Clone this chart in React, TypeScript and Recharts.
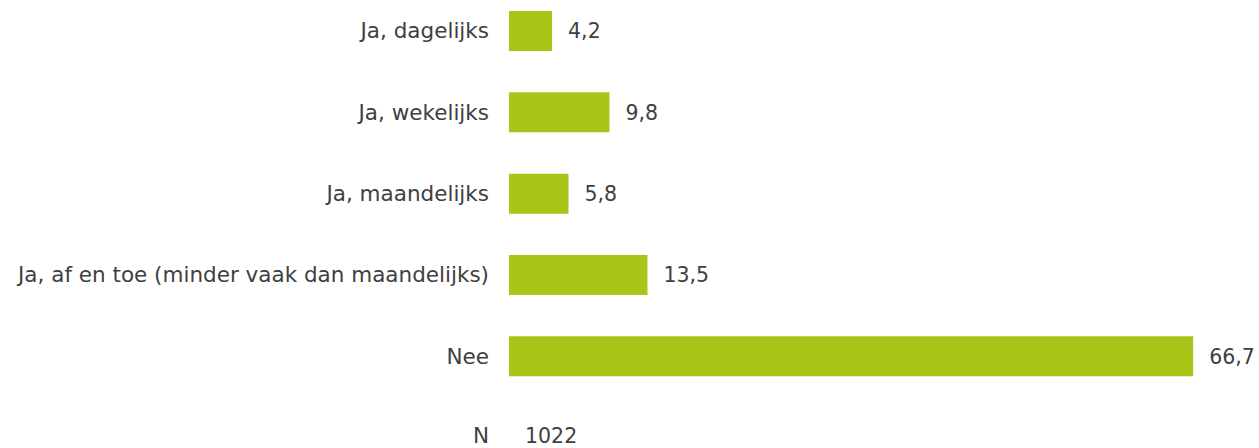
import { BarChart, Bar, XAxis, YAxis, LabelList } from 'recharts';

const categories = [
  'Ja, dagelijks',
  'Ja, wekelijks',
  'Ja, maandelijks',
  'Ja, af en toe (minder vaak dan maandelijks)',
  'Nee',
  'N',
];
const values = [4.2, 9.8, 5.8, 13.5, 66.7, 0];
const valueLabels = ['4,2', '9,8', '5,8', '13,5', '66,7', '1022'];

const data = categories.map((name, i) => ({
  name,
  value: values[i],
  label: valueLabels[i],
}));

const textColor = '#404040';
const barColor = '#aac417';
const font = '"DejaVu Sans", Verdana, sans-serif';
const fontSize = 21.5;
const valueFontSize = 20.5;

// category tick; the N row also carries its count next to the axis
function CategoryTick({ x, y, payload, index }: any) {
  const isN = payload.value === 'N';
  // N row sits at the bottom edge, pull it up a touch so it isn't clipped
  const ty = isN ? y - 2 : y;
  return (
    <g>
      <text
        x={x}
        y={ty}
        dy="0.355em"
        textAnchor="end"
        fill={textColor}
        fontSize={fontSize}
        fontFamily={font}
      >
        {payload.value}
      </text>
      {isN && (
        <text
          x={x + 36}
          y={ty}
          dy="0.355em"
          textAnchor="start"
          fill={textColor}
          fontSize={valueFontSize}
          fontFamily={font}
        >
          {valueLabels[index ?? categories.indexOf('N')]}
        </text>
      )}
    </g>
  );
}

export default function App() {
  return (
    <div
      style={{
        position: 'fixed',
        left: 0,
        top: 0,
        width: 1259,
        height: 448,
        overflow: 'hidden',
        background: '#fff',
      }}
    >
      <div style={{ position: 'absolute', left: 0, top: -10 }}>
        <BarChart
          width={1259}
          height={488}
          data={data}
          layout="vertical"
          margin={{ top: 0, right: 32, bottom: 0, left: 0 }}
          barSize={40}
        >
          <XAxis type="number" domain={[0, 70]} hide />
          <YAxis
            type="category"
            dataKey="name"
            width={509}
            axisLine={false}
            tickLine={false}
            tickSize={0}
            tickMargin={20}
            interval={0}
            tick={<CategoryTick />}
          />
          <Bar dataKey="value" fill={barColor} isAnimationActive={false}>
            <LabelList
              dataKey="label"
              position="right"
              offset={16}
              fill={textColor}
              fontSize={valueFontSize}
              fontFamily={font}
            />
          </Bar>
        </BarChart>
      </div>
    </div>
  );
}
